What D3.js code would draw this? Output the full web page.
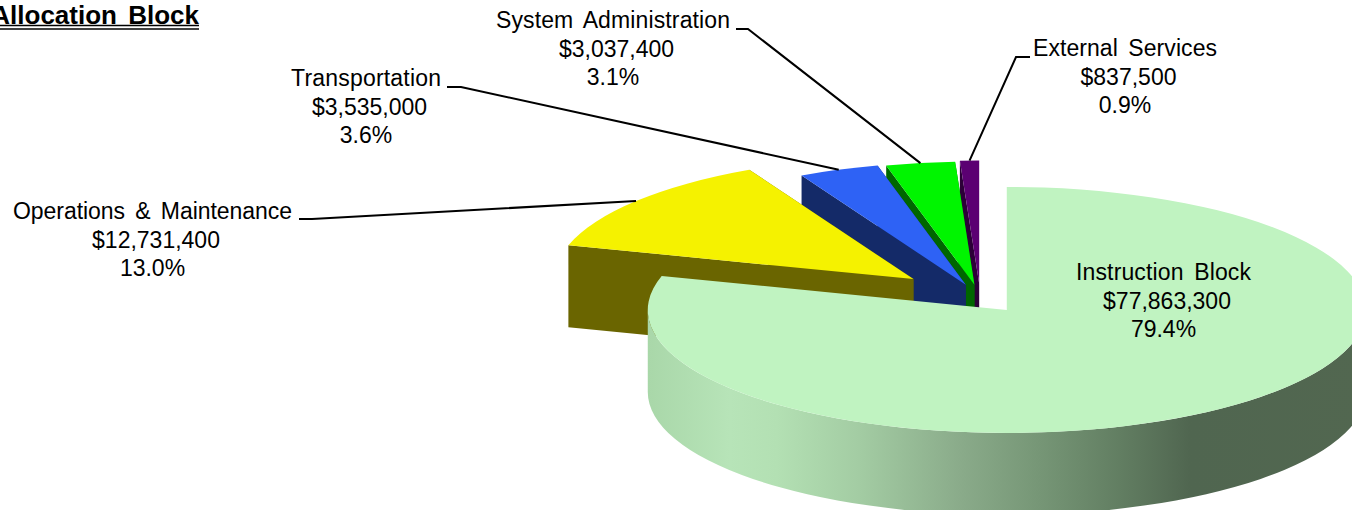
<!DOCTYPE html>
<html>
<head>
<meta charset="utf-8">
<title>Allocation Block</title>
<script src="https://cdn.jsdelivr.net/npm/d3@7"></script>
<style>
  html, body { margin: 0; padding: 0; background: #fff; }
  svg { display: block; }
  text { font-family: "Liberation Sans", Arial, sans-serif; }
</style>
</head>
<body>
<script>
(function(d3) {
  // data
  var categories = ["Instruction Block", "Operations & Maintenance", "Transportation", "System Administration", "External Services"];
  var amounts = [77863300, 12731400, 3535000, 3037400, 837500];

  // looks
  var topColors = ["#c0f3c1", "#f5f200", "#2e62f5", "#00f500", "#5b0072"];
  var sideColors = ["url(#rim)", "#6a6500", "#142a68", "#006600", "#2c0038"];
  var explode = [44, 86.5, 41, 39, 42];
  // label centre x, first baseline y, then where the leader leaves the label (null = no leader)
  var labelX = [1163.5, 152.5, 366, 613, 1125];
  var labelY = [280, 219, 86, 28, 56];
  var nameWidths = [175, 279, 150, 234, 184];
  var lineShift = [0, 3.5, 0];
  var leaderFrom = [null, [299, 219], [447, 87], [736, 29], [1030, 57]];
  var leaderElbow = [null, [312, 219], [461, 87], [748, 29], [1016, 57]];

  var width = 1352;
  var height = 510;
  var cx = 980.3;
  var cy = 297.9;
  var rx = 359;
  var ry = 123;
  var depth = 82;
  var k = ry / rx;
  var lineStep = 28.5;

  var svg = d3.select("body").append("svg").attr("width", width).attr("height", height);

  var grad = svg.append("defs").append("linearGradient").attr("id", "rim")
    .attr("gradientUnits", "userSpaceOnUse")
    .attr("x1", -rx).attr("x2", rx).attr("y1", 0).attr("y2", 0);
  [[0, "#a9d7a9"], [0.114, "#b7e4b8"], [0.18, "#b3e0b3"], [0.295, "#a3cca3"], [0.435, "#8aab8a"],
   [0.546, "#769676"], [0.657, "#627e62"], [0.755, "#506650"], [1, "#526750"]]
    .forEach(function(s) {
      grad.append("stop").attr("offset", s[0]).attr("stop-color", s[1]);
    });

  var pie = d3.pie().sort(null).value(function(d) { return d; });
  var slices = pie(amounts);
  var total = d3.sum(amounts);
  var arc = d3.arc().innerRadius(0).outerRadius(rx);
  var money = d3.format("$,");
  var pct = d3.format(".1%");

  // slice apex after exploding it along its middle angle
  function apex(d, i) {
    var mid = (d.startAngle + d.endAngle) / 2;
    return [cx + Math.sin(mid) * explode[i], cy - Math.cos(mid) * explode[i] * k];
  }

  function radialWall(a) {
    var p = d3.path();
    var x = Math.sin(a) * rx;
    var y = -Math.cos(a) * rx;
    p.moveTo(0, 0);
    p.lineTo(x, y);
    p.lineTo(x, y + depth / k);
    p.lineTo(0, depth / k);
    p.closePath();
    return p.toString();
  }

  // front part of the rim only, the back part is never seen
  function rimWall(d) {
    var a0 = Math.max(d.startAngle, Math.PI / 2);
    var a1 = Math.min(d.endAngle, Math.PI * 1.5);
    if (a1 <= a0) return null;
    var p = d3.path();
    p.arc(0, 0, rx, a0 - Math.PI / 2, a1 - Math.PI / 2);
    p.arc(0, depth / k, rx, a1 - Math.PI / 2, a0 - Math.PI / 2, true);
    p.closePath();
    return p.toString();
  }

  // back to front: last slice first, big one on top
  var order = d3.range(slices.length).reverse();

  var groups = svg.selectAll("g.slice").data(order).enter().append("g")
    .attr("class", "slice")
    .attr("transform", function(i) {
      var c = apex(slices[i], i);
      return "translate(" + c[0] + "," + c[1] + ") scale(1," + k + ")";
    });

  groups.each(function(i) {
    var g = d3.select(this);
    var d = slices[i];
    if (i > 0) {
      g.append("path").attr("d", radialWall(d.endAngle)).attr("fill", sideColors[i]);
      g.append("path").attr("d", radialWall(d.startAngle)).attr("fill", sideColors[i]);
    }
    var rim = rimWall(d);
    if (rim) g.append("path").attr("d", rim).attr("fill", sideColors[i]);
    g.append("path").attr("d", arc(d)).attr("fill", topColors[i]);
  });

  // leader lines end on the outer edge of the slice, at its middle angle
  var leader = d3.line();
  slices.forEach(function(d, i) {
    if (!leaderFrom[i]) return;
    var c = apex(d, i);
    var mid = (d.startAngle + d.endAngle) / 2;
    var end = [c[0] + Math.sin(mid) * rx, c[1] - Math.cos(mid) * ry];
    svg.append("path")
      .attr("d", leader([leaderFrom[i], leaderElbow[i], end]))
      .attr("fill", "none").attr("stroke", "#000").attr("stroke-width", 2);
  });

  var labels = svg.selectAll("g.label").data(slices).enter().append("g")
    .attr("class", "label")
    .attr("text-anchor", "middle")
    .attr("font-size", "23px")
    .attr("fill", "#000");

  labels.each(function(d, i) {
    var g = d3.select(this);
    [categories[i], money(amounts[i]), pct(amounts[i] / total)].forEach(function(s, j) {
      var line = g.append("text")
        .attr("x", labelX[i] + lineShift[j])
        .attr("y", labelY[i] + j * lineStep)
        .text(s);
      if (j === 0) {
        line.attr("word-spacing", "4px")
          .attr("textLength", nameWidths[i])
          .attr("lengthAdjust", "spacing");
      }
    });
  });

  // title runs off the left edge in the original
  svg.append("text")
    .attr("x", 199).attr("y", 24)
    .attr("text-anchor", "end")
    .attr("font-size", "26px").attr("font-weight", "bold")
    .attr("word-spacing", "4px")
    .text("Allocation Block");
  svg.append("line").attr("x1", 0).attr("x2", 199).attr("y1", 25.5).attr("y2", 25.5)
    .attr("stroke", "#000").attr("stroke-width", 1.5);
  svg.append("line").attr("x1", 0).attr("x2", 199).attr("y1", 29).attr("y2", 29)
    .attr("stroke", "#000").attr("stroke-width", 1.5);
})(d3);
</script>
</body>
</html>
